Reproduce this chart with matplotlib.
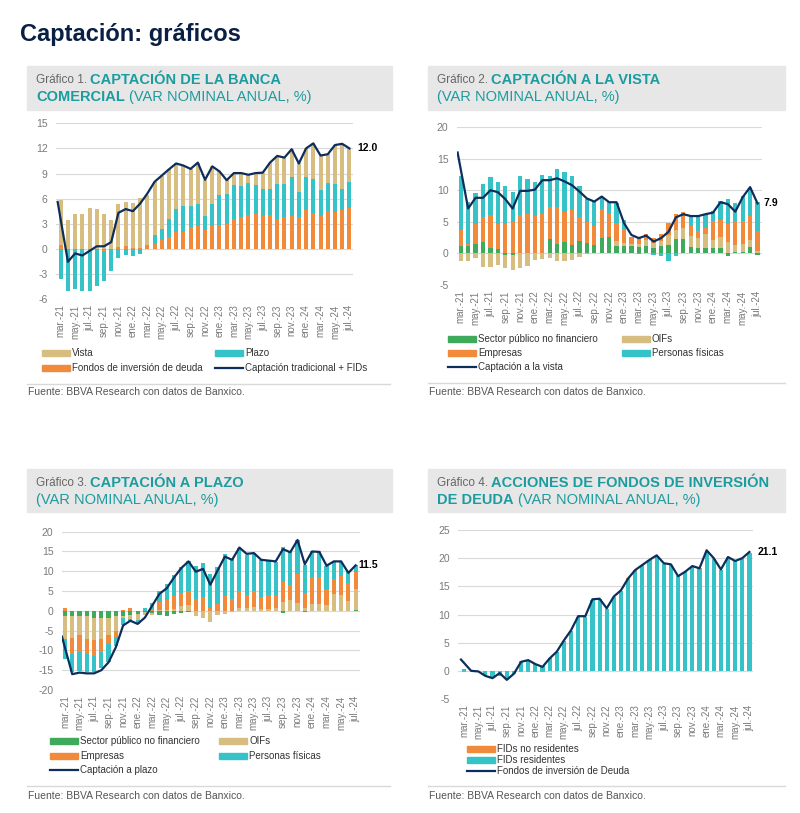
import matplotlib
matplotlib.use("Agg")
import matplotlib.pyplot as plt
from matplotlib.lines import Line2D
from matplotlib.patches import Rectangle
import numpy as np

plt.rcParams["font.family"] = ["Liberation Sans", "DejaVu Sans"]
plt.rcParams["axes.unicode_minus"] = False   # source uses a plain hyphen

# ------------------------------------------------------------------ data
tick_labels = ["mar.-21", "may.-21", "jul.-21", "sep.-21", "nov.-21", "ene.-22",
               "mar.-22", "may.-22", "jul.-22", "sep.-22", "nov.-22", "ene.-23",
               "mar.-23", "may.-23", "jul.-23", "sep.-23", "nov.-23", "ene.-24",
               "mar.-24", "may.-24", "jul.-24"]

# Gráfico 1 (mar-21 .. jul-24, monthly)
fondos1 = [0.5, 0, 0, 0, 0, 0, -0.3, 0, 0.2, 0.3, 0.1, 0.1, 0.4, 0.55, 1.0, 1.4, 2.0, 2.0,
           2.55, 2.75, 2.2, 2.7, 2.9, 3.0, 3.6, 3.75, 4.0, 4.2, 3.9, 4.0, 3.6, 3.75, 3.9,
           3.75, 4.6, 4.3, 3.9, 4.5, 4.4, 4.6, 4.9]
plazo1 = [-3.6, -5.0, -4.75, -5.1, -5.1, -4.4, -3.5, -2.7, -1.1, -0.7, -0.9, -0.6, 0.0,
          1.05, 1.4, 2.2, 2.7, 3.1, 2.55, 2.55, 1.7, 2.6, 3.5, 3.6, 4.0, 3.75, 3.9, 3.4,
          3.2, 3.2, 4.1, 3.95, 4.7, 3.05, 4.0, 4.0, 3.1, 3.4, 3.4, 2.5, 3.1]
vista1 = [5.35, 3.4, 4.2, 4.2, 4.9, 4.75, 4.2, 3.5, 5.15, 5.25, 5.35, 5.95, 6.0, 6.4,
          6.35, 5.9, 5.5, 4.85, 4.45, 5.0, 4.35, 4.55, 2.85, 1.6, 1.45, 1.55, 0.95, 1.45,
          2.0, 3.1, 3.4, 3.2, 3.3, 3.4, 3.4, 4.3, 4.15, 3.4, 4.6, 5.45, 3.95]
total1 = [5.6, -1.55, -0.55, -0.8, -0.25, 0.3, 0.3, 0.8, 4.3, 4.75, 4.5, 5.4, 6.6, 8.0,
          8.75, 9.5, 10.2, 9.95, 9.55, 10.3, 8.25, 9.85, 9.25, 8.2, 9.05, 9.05, 8.85,
          9.05, 9.1, 10.3, 11.1, 10.9, 11.9, 10.2, 12.0, 12.6, 11.15, 11.3, 12.4, 12.55,
          12.0]

# Gráfico 2
sp2 = [1.2, 1.1, 1.5, 1.8, 0.9, 0.6, -0.3, -0.3, 0.1, 0.1, 0.05, 0.05, 2.2, 1.5, 1.8,
       1.3, 1.9, 1.6, 1.3, 2.4, 2.55, 1.2, 1.2, 1.2, 1.05, 1.2, 0.8, 1.2, 1.3, 2.2, 2.3,
       0.95, 0.8, 0.9, 0.9, 0.9, -0.5, 0.15, 0.25, 0.95, -0.3]
oifs2 = [-1.2, -1.2, -0.7, -2.2, -2.2, -1.8, -2.0, -2.4, -2.4, -2.0, -1.1, -0.9, -0.7,
         -1.3, -1.3, -1.0, -0.6, -0.2, 0.0, 0.0, 0.0, 0.7, 0.5, 0.3, 0.4, 0.9, 0.9, 0.7,
         1.6, 1.5, 1.7, 1.8, 1.6, 2.1, 1.2, 1.75, 1.8, 1.15, 1.2, 1.15, 0.3]
emp2 = [2.5, 0.4, 3.1, 4.0, 5.1, 4.1, 4.7, 4.9, 6.0, 6.1, 5.85, 6.25, 5.1, 5.8, 4.8, 5.6,
        3.9, 3.4, 3.0, 4.6, 3.75, 2.9, 2.1, 1.05, 1.1, 1.0, 0.7, 1.2, 1.9, 2.6, 2.5, 1.6,
        1.05, 1.0, 2.95, 2.65, 2.9, 3.75, 3.6, 3.75, 3.15]
pf2 = [8.5, 6.7, 4.9, 5.2, 6.1, 6.6, 6.0, 4.8, 6.1, 5.6, 5.4, 6.1, 5.0, 6.0, 6.3, 5.3,
       4.8, 3.6, 4.0, 1.8, 1.8, 3.2, 1.5, 0.1, -0.2, 0.0, -0.3, -0.5, -1.3, -0.4, 0.0,
       1.6, 2.5, 2.3, 1.6, 2.95, 3.9, 2.95, 4.0, 4.55, 4.65]
total2 = [16.0, 7.1, 8.8, 8.8, 10.0, 9.7, 8.6, 7.1, 9.9, 9.9, 10.1, 11.6, 11.6, 11.9,
          11.4, 10.8, 9.8, 8.7, 8.2, 9.0, 8.1, 8.1, 4.8, 2.9, 2.4, 2.8, 1.85, 2.4, 3.4,
          5.7, 6.2, 5.9, 5.9, 6.2, 6.45, 8.1, 7.8, 6.6, 8.9, 10.5, 7.9]

# Gráfico 3
sp3 = [-1.2, -1.3, -1.3, -1.3, -1.7, -1.9, -1.8, -1.3, -1.2, -1.0, -0.8, -0.3, -0.5,
       -1.0, -1.2, -0.8, -0.5, -0.3, -0.1, -0.1, 0, 0, 0, 0, 0, 0, 0, 0, 0, 0, -0.5, 0,
       0, -0.3, 0, 0, -0.1, 0, 0, -0.1, 0.3]
oifs3 = [-5.8, -5.6, -4.8, -5.7, -5.6, -5.1, -4.2, -3.7, -0.5, -1.0, -1.5, -0.8, -0.6,
         0.2, 0.3, 0.5, 1.3, 1.5, -1.3, -1.6, -2.8, -1.0, -0.7, -0.3, 0.6, 0.8, 1.0, 0.5,
         0.5, 0.8, 2.3, 2.8, 2.0, 0.8, 1.8, 1.8, 1.5, 4.2, 4.0, 2.6, 5.1]
emp3 = [0.8, -3.9, -4.4, -3.8, -4.2, -3.5, -2.5, -1.5, 0.3, 0.8, 0.0, 0.0, 0.4, 2.0,
        2.4, 3.2, 3.2, 3.5, 3.0, 3.5, 0.7, 1.7, 3.8, 3.0, 4.5, 3.3, 4.1, 3.0, 3.5, 3.3,
        5.0, 3.7, 7.4, 3.8, 6.7, 6.7, 4.1, 3.8, 4.9, 4.5, 4.3]
pf3 = [-5.2, -4.6, -4.7, -4.7, -4.0, -4.0, -4.5, -2.5, -1.8, -0.8, -1.0, 0.6, 1.5, 2.8,
       4.1, 5.3, 6.5, 7.5, 8.3, 8.7, 8.6, 9.5, 10.5, 10.0, 10.9, 10.1, 9.5, 9.3, 8.5,
       8.3, 8.8, 8.4, 8.4, 7.1, 6.5, 6.5, 5.8, 4.4, 3.5, 2.6, 1.8]
total3 = [-6.5, -16.0, -15.6, -15.8, -15.8, -15.0, -13.0, -9.2, -3.7, -2.5, -3.3, -1.7,
          1.3, 4.3, 5.7, 8.4, 10.8, 12.5, 9.9, 10.6, 6.6, 10.2, 13.7, 12.9, 16.0, 14.4,
          14.6, 12.9, 12.7, 12.5, 15.6, 14.8, 17.9, 11.8, 15.0, 14.9, 11.4, 12.5, 12.5,
          9.6, 11.5]

# Gráfico 4
fid_res = [0.3, 0.0, 0.0, -0.8, -1.1, -0.9, -1.2, -0.6, 1.7, 2.0, 1.3, 0.8, 2.2, 3.3,
           5.3, 7.1, 9.6, 9.6, 12.6, 12.7, 11.0, 13.1, 14.2, 16.2, 17.8, 18.7, 19.6,
           20.4, 19.0, 18.8, 16.8, 17.5, 18.4, 18.0, 21.3, 19.9, 17.9, 20.0, 19.5, 19.9,
           20.8]
fid_nores = [-0.2, 0, 0, 0, 0, 0, 0, 0, -0.2, -0.2, -0.2, -0.2, 0, 0, 0, 0, 0, 0, 0, 0,
             0, 0, 0, 0.2, 0.1, 0, 0, 0, 0, 0, 0, 0.1, 0, 0.2, 0, 0, 0, 0.2, 0, 0, 0.2]
total4 = [2.0, 0.0, -0.1, -0.9, -1.3, -0.4, -1.6, -0.5, 1.6, 1.9, 1.2, 0.7, 2.2, 3.4,
          5.4, 7.2, 9.7, 9.7, 12.7, 12.8, 11.1, 13.2, 14.3, 16.4, 17.9, 18.8, 19.7, 20.5,
          19.1, 18.9, 16.8, 17.6, 18.6, 18.2, 21.4, 20.0, 18.0, 20.2, 19.5, 20.0, 21.1]

# ------------------------------------------------------------------ styles
TAN, TEAL, ORANGE, GREEN = "#d8bd80", "#36c3c7", "#f28a3c", "#3fa95c"
NAVY, HEAD, GRID, TICK, BOX = "#0d2e5c", "#1c9c9e", "#d9d9d9", "#7a7a7a", "#e7e7e7"
W, H = 800, 813


def fx(x):
    return x / W


def fy(y):
    return 1 - y / H


def stacked(ax, series, colors, width=0.58):
    x = np.arange(len(series[0]))
    pos = np.zeros(len(x))
    neg = np.zeros(len(x))
    for vals, c in zip(series, colors):
        v = np.asarray(vals, float)
        ax.bar(x, v, width, bottom=np.where(v >= 0, pos, neg), color=c, linewidth=0)
        pos += np.clip(v, 0, None)
        neg += np.clip(v, None, 0)


def total_line(ax, vals, label_dx):
    xl = np.arange(len(vals), dtype=float)
    xl[0] = -0.42                      # line starts at the left edge, as in the source
    ax.plot(xl, vals, color=NAVY, lw=1.6, zorder=4)
    ax.annotate(f"{vals[-1]:.1f}", xy=(xl[-1], vals[-1]), xytext=(label_dx, 0),
                textcoords="offset points", va="center", ha="left", fontsize=7.5,
                fontweight="bold", color="black", annotation_clip=False)


def make_axes(fig, x0, x1, ytop, ybot, yticks, xlim):
    ax = fig.add_axes([fx(x0), fy(ybot), (x1 - x0) / W, (ybot - ytop) / H])
    ax.set_ylim(yticks[0], yticks[-1])
    ax.set_yticks(yticks)
    ax.set_xlim(*xlim)
    ax.set_xticks(np.arange(0, 41, 2))
    ax.set_xticklabels(tick_labels, rotation=90, fontsize=7, color=TICK)
    ax.tick_params(axis="y", length=0, pad=6, labelsize=7.5, labelcolor=TICK)
    ax.tick_params(axis="x", length=0, pad=4)
    for s in ax.spines.values():
        s.set_visible(False)
    ax.grid(axis="y", color=GRID, lw=0.8)
    ax.set_axisbelow(True)
    return ax


def rich(fig, x, y, parts):
    r = fig.canvas.get_renderer()
    for text, kw in parts:
        t = fig.text(fx(x), fy(y), text, va="center", ha="left", **kw)
        x += t.get_window_extent(renderer=r).width + kw.get("fontsize", 10) * 100 / 72 * 0.28


def header(fig, x0, x1, ytop, ybot, line1, line2):
    fig.patches.append(Rectangle((fx(x0), fy(ybot)), (x1 - x0) / W, (ybot - ytop) / H,
                                 transform=fig.transFigure, color=BOX, zorder=0))
    rich(fig, x0 + 9, ytop + 14, line1)
    rich(fig, x0 + 9, ytop + 31, line2)


def footer(fig, x0, x1, yline, ytext):
    fig.add_artist(Line2D([fx(x0), fx(x1)], [fy(yline), fy(yline)], color=GRID, lw=1))
    fig.text(fx(x0 + 1), fy(ytext), "Fuente: BBVA Research con datos de Banxico.",
             fontsize=7.5, color="#555555", va="center")


def legend_item(fig, x, y, color, label, kind="patch"):
    if kind == "patch":
        fig.patches.append(Rectangle((fx(x), fy(y + 3)), 28 / W, 6 / H,
                                     transform=fig.transFigure, color=color))
    else:
        fig.add_artist(Line2D([fx(x), fx(x + 28)], [fy(y), fy(y)], color=color, lw=1.6))
    fig.text(fx(x + 30), fy(y), label, fontsize=7, color="#333333", va="center")


GREY_SMALL = dict(fontsize=8.5, color="#666666")
BOLD = dict(fontsize=10.5, color=HEAD, fontweight="bold")
NORM = dict(fontsize=10.5, color=HEAD)

# ------------------------------------------------------------------ figure
fig = plt.figure(figsize=(8, 8.13), dpi=100)
fig.text(fx(20), fy(35), "Captación: gráficos", fontsize=17, fontweight="bold",
         color="#0a1f44", va="center")

# ---- Gráfico 1
header(fig, 27, 392, 66, 110,
       [("Gráfico 1.", GREY_SMALL), ("CAPTACIÓN DE LA BANCA", BOLD)],
       [("COMERCIAL", BOLD), ("(VAR NOMINAL ANUAL, %)", NORM)])
ax1 = make_axes(fig, 56, 353, 123.3, 299, [-6, -3, 0, 3, 6, 9, 12, 15], (-0.65, 40.5))
stacked(ax1, [fondos1, plazo1, vista1], [ORANGE, TEAL, TAN], width=0.55)
total_line(ax1, total1, 6)
legend_item(fig, 42, 353, TAN, "Vista")
legend_item(fig, 215, 353, TEAL, "Plazo")
legend_item(fig, 42, 368, ORANGE, "Fondos de inversión de deuda")
legend_item(fig, 215, 368, NAVY, "Captación tradicional + FIDs", kind="line")
footer(fig, 27, 390, 384, 392)

# ---- Gráfico 2
header(fig, 428, 785, 66, 110,
       [("Gráfico 2.", GREY_SMALL), ("CAPTACIÓN A LA VISTA", BOLD)],
       [("(VAR NOMINAL ANUAL, %)", NORM)])
ax2 = make_axes(fig, 456.7, 761.7, 127.3, 284.7, [-5, 0, 5, 10, 15, 20], (-0.54, 40.56))
stacked(ax2, [sp2, oifs2, emp2, pf2], [GREEN, TAN, ORANGE, TEAL])
total_line(ax2, total2, 4)
legend_item(fig, 448, 339, GREEN, "Sector público no financiero")
legend_item(fig, 622, 339, TAN, "OIFs")
legend_item(fig, 448, 353, ORANGE, "Empresas")
legend_item(fig, 622, 353, TEAL, "Personas físicas")
legend_item(fig, 448, 367, NAVY, "Captación a la vista", kind="line")
footer(fig, 428, 785, 383, 392)

# ---- Gráfico 3
header(fig, 27, 392, 469, 512,
       [("Gráfico 3.", GREY_SMALL), ("CAPTACIÓN A PLAZO", BOLD)],
       [("(VAR NOMINAL ANUAL, %)", NORM)])
ax3 = make_axes(fig, 61.7, 360, 531.7, 690, list(range(-20, 21, 5)), (-0.45, 40.6))
stacked(ax3, [sp3, oifs3, emp3, pf3], [GREEN, TAN, ORANGE, TEAL])
total_line(ax3, total3, 2)
legend_item(fig, 50, 741, GREEN, "Sector público no financiero")
legend_item(fig, 219, 741, TAN, "OIFs")
legend_item(fig, 50, 756, ORANGE, "Empresas")
legend_item(fig, 219, 756, TEAL, "Personas físicas")
legend_item(fig, 50, 770, NAVY, "Captación a plazo", kind="line")
footer(fig, 27, 390, 786, 796)

# ---- Gráfico 4
header(fig, 428, 785, 469, 512,
       [("Gráfico 4.", GREY_SMALL), ("ACCIONES DE FONDOS DE INVERSIÓN", BOLD)],
       [("DE DEUDA", BOLD), ("(VAR NOMINAL ANUAL, %)", NORM)])
ax4 = make_axes(fig, 458, 753, 530, 699, [-5, 0, 5, 10, 15, 20, 25], (-0.84, 40.5))
stacked(ax4, [fid_res, fid_nores], [TEAL, ORANGE])
total_line(ax4, total4, 6)
legend_item(fig, 467, 749, ORANGE, "FIDs no residentes")
legend_item(fig, 467, 760, TEAL, "FIDs residentes")
legend_item(fig, 467, 771, NAVY, "Fondos de inversión de Deuda", kind="line")
footer(fig, 428, 785, 786, 796)

fig.savefig("out.png", dpi=100)
